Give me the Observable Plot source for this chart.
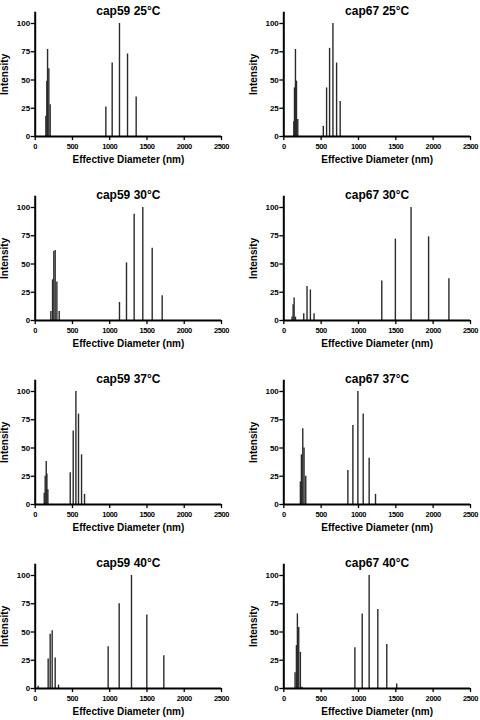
<!DOCTYPE html>
<html><head><meta charset="utf-8">
<script src="https://cdn.jsdelivr.net/npm/d3@7"></script>
<script src="https://cdn.jsdelivr.net/npm/@observablehq/plot@0.6"></script>
<style>
body{margin:0;background:#fff;}
#chart{position:relative;width:480px;height:720px;overflow:hidden;}
.panel{position:absolute;width:240px;height:184px;}
</style></head><body><div id="chart"></div>
<script>
const titles = ["cap59 25°C","cap67 25°C","cap59 30°C","cap67 30°C","cap59 37°C","cap67 37°C","cap59 40°C","cap67 40°C"];
const xLabel = "Effective Diameter (nm)";
const yLabel = "Intensity";
const xTicks = [0,500,1000,1500,2000,2500];
const yTicks = [0,25,50,75,100];

const cap59_25_d = [143,156,166,183,201, 948,1033,1131,1239,1355];
const cap59_25_i = [18,49,77,60,28, 26,65,100,73,35];
const cap67_25_d = [134,143,156,170,187, 529,573,613,658,707,755];
const cap67_25_i = [13,43,77,49,15, 9,43,78,100,65,31];
const cap59_30_d = [210,233,250,268,291,322, 1131,1225,1328,1444,1570,1704];
const cap59_30_i = [8,36,61,62,34,8, 16,51,94,100,64,22];
const cap67_30_d = [111,125,138,156, 267,311,356,405, 1312,1494,1704,1939,2211];
const cap67_30_i = [3,14,20,3, 6,30,27,6, 35,72,100,74,37];
const cap59_37_d = [121,134,148,157,170, 470,510,546,581,622,662];
const cap59_37_i = [10,25,38,27,13, 28,65,100,80,44,9];
const cap67_37_d = [222,236,254,271,294, 858,925,992,1063,1143,1228];
const cap67_37_i = [20,44,67,50,25, 30,70,100,80,41,9];
const cap59_40_d = [40, 174,201,228,268,313, 979,1127,1292,1498,1726];
const cap59_40_i = [2, 26,48,51,27,3, 37,75,100,65,29];
const cap67_40_d = [151,169,182,200,222,245, 952,1050,1143,1259,1379,1512];
const cap67_40_i = [14,38,66,54,32,1, 36,66,100,70,39,4];

const diams = [cap59_25_d,cap67_25_d,cap59_30_d,cap67_30_d,cap59_37_d,cap67_37_d,cap59_40_d,cap67_40_d];
const ints = [cap59_25_i,cap67_25_i,cap59_30_i,cap67_30_i,cap59_37_i,cap67_37_i,cap59_40_i,cap67_40_i];

const chart = document.getElementById("chart");
const font = "'Liberation Sans', Arial, Helvetica, sans-serif";

titles.forEach((title, i) => {
  const col = i % 2, row = Math.floor(i / 2);
  const data = diams[i].map((d, j) => ({d, v: ints[i][j]}));
  const ml = col ? 43.3 : 34.7;
  const mr = col ? 10 : 19;
  const svg = Plot.plot({
    width: 240, height: 184,
    marginLeft: ml, marginRight: mr, marginTop: 11.7, marginBottom: 48,
    style: {fontFamily: font, fontWeight: "bold", color: "#000", background: "transparent", overflow: "visible"},
    x: {domain: [0, 2500]},
    y: {domain: [0, 110]},
    marks: [
      Plot.ruleX(data, {x: "d", y1: 0, y2: "v", stroke: "#2a2a2a", strokeWidth: 1.4}),
      Plot.axisX({ticks: xTicks, tickFormat: d3.format("d"), tickSize: 4, tickPadding: 3, fontSize: 7.5, fontWeight: "bold", label: null, strokeWidth: 1.3}),
      Plot.axisY({ticks: yTicks, tickSize: 4, tickPadding: 1, fontSize: 8, fontWeight: "bold", label: null, strokeWidth: 1.3}),
      Plot.ruleY([0], {stroke: "#000", strokeWidth: 2}),
      Plot.ruleX([0], {stroke: "#000", strokeWidth: 2}),
      Plot.text([title], {text: d => d, frameAnchor: "top", dy: -6, fontSize: 12, fontWeight: "bold", fill: "#000"}),
      Plot.text([xLabel], {text: d => d, frameAnchor: "bottom", dy: 26, fontSize: 10, fontWeight: "bold", fill: "#000"}),
      Plot.text([yLabel], {text: d => d, frameAnchor: "left", dx: -30.5, rotate: -90, textAnchor: "middle", fontSize: 10, fontWeight: "bold", fill: "#000"})
    ]
  });
  svg.querySelectorAll('g[aria-label="x-axis tick label"]').forEach(g => g.style.letterSpacing = "-0.4px");
  const div = document.createElement("div");
  div.className = "panel";
  div.style.left = (col * 240) + "px";
  div.style.top = (row * 184) + "px";
  div.appendChild(svg);
  chart.appendChild(div);
});
</script>
</body></html>
